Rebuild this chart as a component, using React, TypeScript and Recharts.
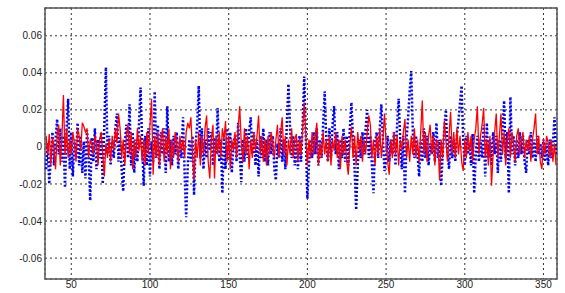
import React from "react";
import {
  LineChart,
  Line,
  XAxis,
  YAxis,
  CartesianGrid,
  ReferenceArea,
} from "recharts";

// Sample index of the first point (one sample per integer x)
const X_START = 34;

const xTicks = [50, 100, 150, 200, 250, 300, 350];
const yTicks = [-0.06, -0.04, -0.02, 0, 0.02, 0.04, 0.06];

// Blue dotted series, x = 34 .. 358
const blueValues = [
  -0.012, 0.002, -0.02, -0.006, 0.008, -0.01, 0.004, 0.015, -0.004, 0.01,
  -0.008, 0.006, -0.022, 0.01, 0.026, -0.012, 0.008, -0.016, 0.004, -0.006,
  0.013, -0.01, 0.006, -0.014, 0.003, -0.017, 0.009, -0.004, -0.029, 0.005,
  -0.008, 0.01, -0.012, 0.004, -0.006, 0.008, -0.02, 0.012, 0.043, -0.004,
  0.006, -0.01, 0.003, -0.006, 0.01, 0.018, -0.008, 0.005, -0.012, -0.024,
  0.002, 0.012, -0.006, 0.023, -0.01, 0.008, -0.014, 0.004, -0.008, 0.012,
  0.032, 0.004, -0.021, 0.006, -0.01, 0.01, -0.016, 0.003, -0.008, 0.03,
  -0.006, 0.012, -0.012, 0.008, -0.004, 0.01, -0.014, 0.022, -0.008, 0.004,
  -0.01, 0.006, -0.004, 0.008, -0.012, 0.003, -0.006, 0.016, -0.014, -0.038,
  -0.01, 0.004, -0.008, 0.006, -0.026, 0.002, 0.012, 0.033, -0.006, 0.01,
  -0.012, 0.004, -0.006, 0.01, -0.002, 0.008, -0.01, 0.005, -0.004, 0.021,
  -0.008, 0.004, -0.025, 0.006, -0.012, 0.01, -0.006, 0.008, -0.014, 0.002,
  0.006, -0.008, 0.013, -0.004, -0.019, 0.004, -0.008, 0.01, -0.006, 0.008,
  0.016, -0.004, 0.008, -0.01, 0.004, -0.016, 0.006, -0.006, 0.01, -0.008,
  0.004, -0.01, 0.008, -0.004, 0.006, -0.012, -0.018, 0.002, -0.006, 0.01,
  -0.008, 0.004, -0.012, 0.014, 0.034, 0.01, -0.006, 0.006, -0.01, 0.004,
  -0.012, 0.006, -0.008, 0.012, 0.038, 0.006, -0.028, -0.01, 0.004, -0.006,
  0.008, -0.004, 0.01, -0.01, 0.004, -0.006, 0.012, 0.03, 0.004, -0.008,
  0.01, -0.006, 0.012, 0.022, -0.004, 0.008, -0.012, 0.004, -0.006, 0.01,
  -0.008, 0.006, -0.01, 0.01, 0.024, 0.004, -0.012, -0.034, -0.01, 0.004,
  -0.006, 0.008, -0.004, 0.01, 0.02, -0.006, 0.006, -0.01, -0.025, 0.002,
  0.008, -0.006, 0.01, 0.023, 0.004, -0.013, -0.006, 0.006, -0.008, 0.004,
  -0.004, 0.008, -0.01, 0.012, 0.026, 0.004, -0.012, 0.006, -0.025, 0.004,
  0.016, 0.03, 0.041, 0.008, -0.006, 0.006, -0.004, -0.016, 0.004, -0.008,
  0.01, -0.006, 0.006, -0.01, 0.002, -0.004, 0.008, -0.008, 0.013, -0.006,
  0.004, -0.021, -0.004, 0.01, 0.02, -0.002, -0.012, 0.006, -0.006, 0.004,
  -0.008, 0.006, 0.014, 0.024, 0.033, 0.004, -0.01, 0.006, -0.004, 0.002,
  -0.01, 0.007, -0.025, -0.004, 0.006, -0.008, 0.004, -0.006, 0.012, -0.016,
  0.013, -0.006, 0.004, -0.01, 0.008, -0.004, 0.006, -0.014, 0.004, -0.008,
  0.01, 0.025, -0.006, 0.008, -0.025, 0.027, -0.004, 0.006, -0.01, 0.004,
  -0.006, 0.008, -0.004, 0.006, -0.008, -0.014, 0.004, -0.004, 0.008, -0.006,
  0.004, -0.008, 0.006, -0.004, 0.002, -0.006, 0.004, -0.008, 0.002, -0.01,
  0.004, -0.006, 0.002, 0.016, -0.004,
];

// Red solid series, x = 34 .. 358
const redValues = [
  0.006, -0.004, 0.007, -0.01, 0.005, 0.0, -0.012, 0.006, 0.012, -0.01,
  0.004, 0.028, -0.004, 0.01, -0.006, 0.004, -0.004, 0.008, 0.002, -0.008,
  0.01, 0.006, -0.002, 0.013, 0.011, 0.008, 0.01, -0.006, 0.004, 0.002,
  -0.004, 0.006, 0.002, -0.01, 0.004, 0.008, -0.004, -0.016, 0.002, -0.006,
  0.004, -0.008, 0.006, -0.002, 0.01, 0.002, 0.018, 0.01, -0.006, 0.004,
  -0.01, 0.006, 0.012, -0.004, 0.008, -0.012, 0.004, -0.006, 0.01, -0.002,
  0.006, -0.008, 0.004, -0.01, 0.008, -0.004, 0.012, 0.026, -0.015, 0.006,
  -0.006, 0.008, -0.01, 0.004, 0.01, -0.008, 0.006, -0.004, 0.01, -0.012,
  0.004, -0.006, 0.008, 0.002, -0.008, 0.006, -0.002, 0.004, -0.006, 0.008,
  0.013, 0.01, 0.016, -0.004, -0.018, 0.004, -0.006, 0.008, -0.01, 0.006,
  -0.004, 0.01, 0.017, -0.008, -0.017, 0.004, 0.012, -0.017, 0.006, -0.004,
  0.008, -0.006, 0.01, 0.004, 0.014, -0.008, 0.006, -0.012, 0.004, -0.002,
  0.008, -0.006, 0.01, 0.022, 0.002, -0.008, 0.01, -0.004, 0.006, -0.012,
  0.004, -0.006, 0.008, -0.002, 0.006, 0.017, -0.004, 0.006, -0.008, 0.004,
  -0.01, 0.006, -0.004, 0.008, 0.002, -0.006, 0.004, 0.012, -0.006, 0.008,
  0.016, -0.004, 0.006, -0.01, 0.004, -0.004, 0.01, -0.006, 0.004, 0.007,
  -0.008, 0.004, -0.004, 0.01, 0.024, 0.006, -0.01, 0.004, -0.006, 0.008,
  -0.004, 0.006, 0.013, -0.01, 0.002, -0.006, 0.008, -0.004, 0.004, -0.008,
  0.006, -0.01, 0.004, -0.002, 0.008, -0.006, 0.004, -0.012, 0.006, -0.004,
  0.004, -0.008, -0.015, 0.002, 0.011, -0.006, 0.006, -0.01, 0.008, -0.002,
  0.006, -0.008, 0.004, -0.004, 0.008, 0.017, 0.012, -0.006, 0.004, -0.01,
  0.006, -0.004, 0.01, -0.006, 0.004, 0.018, 0.002, -0.008, -0.015, 0.004,
  -0.006, 0.008, -0.004, 0.006, -0.01, 0.004, -0.002, 0.008, 0.015, -0.006,
  0.004, -0.008, 0.006, -0.004, 0.01, -0.006, 0.004, -0.008, 0.008, 0.025,
  -0.004, 0.008, -0.008, 0.006, 0.012, -0.004, 0.006, -0.01, 0.004, 0.002,
  -0.018, 0.004, -0.006, 0.014, 0.004, -0.008, 0.006, 0.019, -0.004, 0.008,
  -0.006, 0.01, -0.004, 0.006, -0.008, -0.013, 0.004, -0.006, 0.008, -0.002,
  0.006, -0.008, 0.004, 0.01, 0.022, -0.004, 0.006, 0.012, 0.021, -0.006,
  0.004, -0.01, 0.006, -0.021, -0.004, 0.008, 0.018, -0.006, 0.006, 0.018,
  -0.004, 0.008, -0.01, 0.004, 0.01, -0.006, 0.008, 0.002, -0.008, 0.006,
  0.01, -0.004, 0.004, 0.008, -0.006, 0.004, -0.002, 0.006, -0.008, 0.004,
  0.01, 0.018, -0.004, 0.006, -0.008, -0.012, 0.004, -0.004, 0.006, 0.002,
  -0.006, 0.004, -0.008, 0.002, -0.01,
];

const data = blueValues.map((b, i) => ({
  x: X_START + i,
  blue: b,
  red: redValues[i],
}));

const X_DOMAIN: [number, number] = [33.3, 358.6];
const Y_DOMAIN: [number, number] = [-0.0713, 0.075];

const tickStyle = {
  fontFamily: "'Liberation Sans Narrow', 'Arial Narrow', 'Liberation Sans', Arial, sans-serif",
  fontSize: 10,
  fill: "#222",
};

const fmtY = (v: number) => (v === 0 ? "0" : v.toFixed(2));

export default function App() {
  return (
    <div style={{ position: "absolute", left: 0, top: 0, width: 565, height: 293, background: "#fff" }}>
      <LineChart
        width={565}
        height={293}
        data={data}
        margin={{ top: 8, right: 8, bottom: 0, left: 0 }}
      >
        <CartesianGrid stroke="#333" strokeDasharray="2 3" strokeWidth={1} />
        <XAxis
          dataKey="x"
          type="number"
          domain={X_DOMAIN}
          ticks={xTicks}
          allowDataOverflow
          height={14}
          tickLine={false}
          tickSize={0}
          tickMargin={2}
          axisLine={false}
          tick={tickStyle}
          interval={0}
        />
        <YAxis
          type="number"
          domain={Y_DOMAIN}
          ticks={yTicks}
          allowDataOverflow
          width={45}
          tickLine={false}
          tickSize={0}
          tickMargin={3}
          axisLine={false}
          tick={tickStyle}
          tickFormatter={fmtY}
          interval={0}
        />
        <Line
          dataKey="blue"
          type="linear"
          stroke="#0000ff"
          strokeWidth={2.5}
          strokeDasharray="2 2"
          dot={false}
          isAnimationActive={false}
        />
        <Line
          dataKey="red"
          type="linear"
          stroke="#ff0000"
          strokeWidth={1.3}
          dot={false}
          isAnimationActive={false}
        />
        <ReferenceArea
          x1={X_DOMAIN[0]}
          x2={X_DOMAIN[1]}
          y1={Y_DOMAIN[0]}
          y2={Y_DOMAIN[1]}
          fill="none"
          stroke="#555"
          strokeWidth={1.5}
          ifOverflow="visible"
        />
      </LineChart>
    </div>
  );
}
